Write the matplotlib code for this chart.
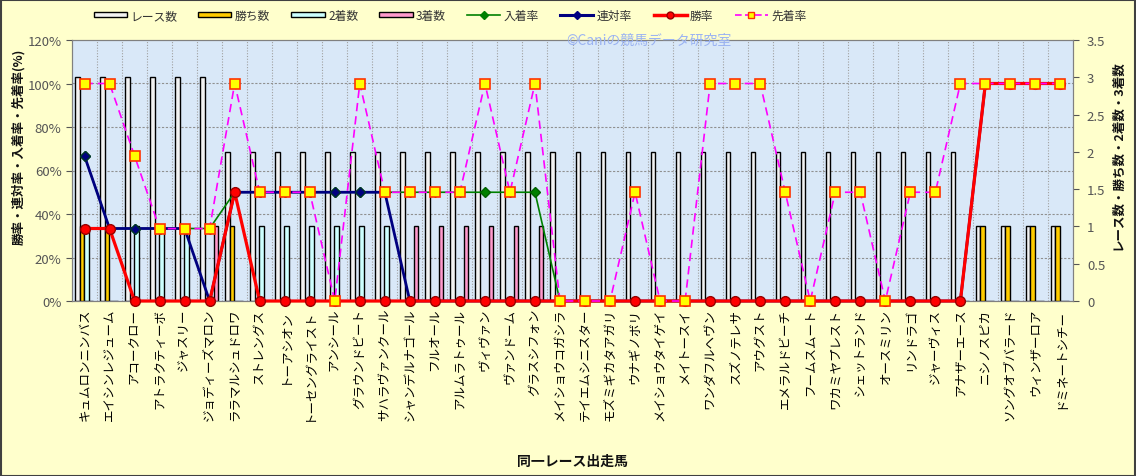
import matplotlib
matplotlib.use("Agg")
import matplotlib.pyplot as plt
import numpy as np
from matplotlib.patches import Rectangle, Patch
from matplotlib.lines import Line2D

plt.rcParams['font.family'] = ['Noto Sans CJK JP', 'DejaVu Sans']

horses = ["キュムロンニンバス", "エイシンレジューム", "アコークロー", "アトラクティーボ", "ジャスリー",
          "ジョディーズマロン", "ララマルシュドロワ", "ストレングス", "トーアシオン", "トーセングライスト",
          "アンシール", "グラウンドビート", "サハラヴァンクール", "シャンデルナゴール", "フルオール",
          "アルムラトゥール", "ヴィヴァン", "ヴァンドーム", "グラスシフォン", "メイショウコガシラ",
          "テイエムシニスター", "モズミギカタアガリ", "ウナギノボリ", "メイショウタイゲイ", "メイトースイ",
          "ワンダフルヘヴン", "スズノテレサ", "アウグスト", "エメラルドビーチ", "フームスムート",
          "ワカミヤプレスト", "シェットランド", "オースミリン", "リンドラゴ", "ジャーヴィス",
          "アナザーエース", "ニシノスピカ", "ソングオブバラード", "ウィンザーロア", "ドミネートシチー"]

races  = [3, 3, 3, 3, 3, 3, 2, 2, 2, 2, 2, 2, 2, 2, 2, 2, 2, 2, 2, 2,
          2, 2, 2, 2, 2, 2, 2, 2, 2, 2, 2, 2, 2, 2, 2, 2, 1, 1, 1, 1]
wins   = [1, 1, 0, 0, 0, 0, 1, 0, 0, 0, 0, 0, 0, 0, 0, 0, 0, 0, 0, 0,
          0, 0, 0, 0, 0, 0, 0, 0, 0, 0, 0, 0, 0, 0, 0, 0, 1, 1, 1, 1]
second = [1, 0, 1, 1, 1, 0, 0, 1, 1, 1, 1, 1, 1, 0, 0, 0, 0, 0, 0, 0,
          0, 0, 0, 0, 0, 0, 0, 0, 0, 0, 0, 0, 0, 0, 0, 0, 0, 0, 0, 0]
third  = [0, 0, 0, 0, 0, 1, 0, 0, 0, 0, 0, 0, 0, 1, 1, 1, 1, 1, 1, 0,
          0, 0, 0, 0, 0, 0, 0, 0, 0, 0, 0, 0, 0, 0, 0, 0, 0, 0, 0, 0]
sencha = [100, 100, 66.7, 33.3, 33.3, 33.3, 100, 50, 50, 50, 0, 100, 50, 50, 50, 50, 100, 50, 100, 0,
          0, 0, 50, 0, 0, 100, 100, 100, 50, 0, 50, 50, 0, 50, 50, 100, 100, 100, 100, 100]

r = np.array(races, float)
w = np.array(wins, float)
s2 = np.array(second, float)
s3 = np.array(third, float)
win_rate = w / r * 100
rentai = (w + s2) / r * 100
nyuchaku = (w + s2 + s3) / r * 100

fig = plt.figure(figsize=(11.36, 4.77), dpi=100, facecolor='#ffffcc')
fig.patches.append(Rectangle((0.001, 0.001), 0.998, 0.997, transform=fig.transFigure,
                             fill=False, edgecolor='#404040', linewidth=1.5))

L, R, B, T = 72/1136, 1073/1136, 1-302/477, 1-41/477
ax1 = fig.add_axes([L, B, R-L, T-B])
ax2 = ax1.twinx()
ax1.set_facecolor('#d9e8f8')
x = np.arange(len(horses))
n = len(horses)
ax1.set_xlim(-0.5, n-0.5)
ax1.set_ylim(0, 3.5)

# grid
for p in [20, 40, 60, 80, 100]:
    ax1.axhline(p/120*3.5, color='#909090', lw=0.8, ls=(0, (2, 1.5)), zorder=0.5)
for i in range(n-1):
    ax1.axvline(i+0.5, color='#a0a0a0', lw=0.8, ls=(0, (1, 1.5)), zorder=0.5)

bw = 0.18
offs = [-0.29, -0.11, 0.07, 0.25]
ax1.bar(x+offs[0], races, bw, color='#f2f2f2', edgecolor='black', lw=1, zorder=2)
ax1.bar(x+offs[1], wins, bw, color='#ffcc00', edgecolor='black', lw=1, zorder=2)
ax1.bar(x+offs[2], second, bw, color='#ccffff', edgecolor='black', lw=1, zorder=2)
ax1.bar(x+offs[3], third, bw, color='#ff99cc', edgecolor='black', lw=1, zorder=2)

ax1.set_xticks(x)
ax1.set_xticklabels(horses, rotation=90, fontsize=9, va='top')
ax1.tick_params(axis='x', length=0, pad=5)

ax2.set_ylim(0, 120)
ax2.plot(x, nyuchaku, color='#008000', lw=1.2, marker='D', ms=5.5, mfc='#008000', mec='#006000', zorder=3, clip_on=False)
ax2.plot(x, rentai, color='#000080', lw=2.0, marker='D', ms=5.5, mfc='#000080', mec='#003030', zorder=4, clip_on=False)
ax2.plot(x, win_rate, color='#ff0000', lw=2.3, marker='o', ms=7, mfc='#ff0000', mec='#990000', zorder=5, clip_on=False)
ax2.plot(x, sencha, color='#ff00ff', lw=1.2, ls=(0, (5, 3)), marker='s', ms=7, mfc='#ffff00', mec='#ff3300', mew=1.2, zorder=6, clip_on=False)

# axis sides: counts on right, percent on left
ax1.yaxis.tick_right()
ax1.set_yticks(np.arange(0, 3.51, 0.5))
ax1.set_yticklabels(['0', '0.5', '1', '1.5', '2', '2.5', '3', '3.5'])
ax1.tick_params(axis='y', labelsize=9.5, colors='#555555', direction='out', length=4, pad=6)
ax2.yaxis.tick_left()
ax2.set_yticks(np.arange(0, 121, 20))
ax2.set_yticklabels([f'{v}%' for v in range(0, 121, 20)])
ax2.tick_params(axis='y', labelsize=9.5, colors='#555555', direction='out', length=4)

for a in (ax1, ax2):
    for sp in a.spines.values():
        sp.set_color('#808080')

fig.text(19/1136, 1-147/477, '勝率・連対率・入着率・先着率(%)', rotation=90, fontsize=9, fontweight='bold',
         ha='center', va='center', color='#111111')
fig.text(1118/1136, 1-155/477, 'レース数・勝ち数・2着数・3着数', rotation=90, fontsize=9, fontweight='bold',
         ha='center', va='center', color='#111111')
fig.text(572/1136, 1-462/477, '同一レース出走馬', fontsize=10, fontweight='bold',
         ha='center', va='center', color='#111111')

ax2.text(0.576, 1.0, '©Caniの競馬データ研究室', transform=ax2.transAxes, fontsize=10,
         color='#9bb3f2', ha='center', va='center', zorder=10)

handles = [
    Patch(facecolor='#f2f2f2', edgecolor='black', label='レース数'),
    Patch(facecolor='#ffcc00', edgecolor='black', label='勝ち数'),
    Patch(facecolor='#ccffff', edgecolor='black', label='2着数'),
    Patch(facecolor='#ff99cc', edgecolor='black', label='3着数'),
    Line2D([], [], color='#008000', lw=1.2, marker='D', ms=4, label='入着率'),
    Line2D([], [], color='#000080', lw=2.2, marker='D', ms=4, label='連対率'),
    Line2D([], [], color='#ff0000', lw=2.5, marker='o', ms=5, mfc='#ff0000', mec='#990000', label='勝率'),
    Line2D([], [], color='#ff00ff', lw=1.2, ls=(0, (4, 2)), marker='s', ms=5, mfc='#ffff00', mec='#ff3300', label='先着率'),
]
fig.legend(handles=handles, loc='center left', bbox_to_anchor=(0.073, 0.966), ncol=8, frameon=False,
           fontsize=8.5, handlelength=2.8, handleheight=0.4, columnspacing=1.8, handletextpad=0.3,
           labelcolor='#333333')

fig.savefig('out.png', dpi=100, facecolor=fig.get_facecolor())
